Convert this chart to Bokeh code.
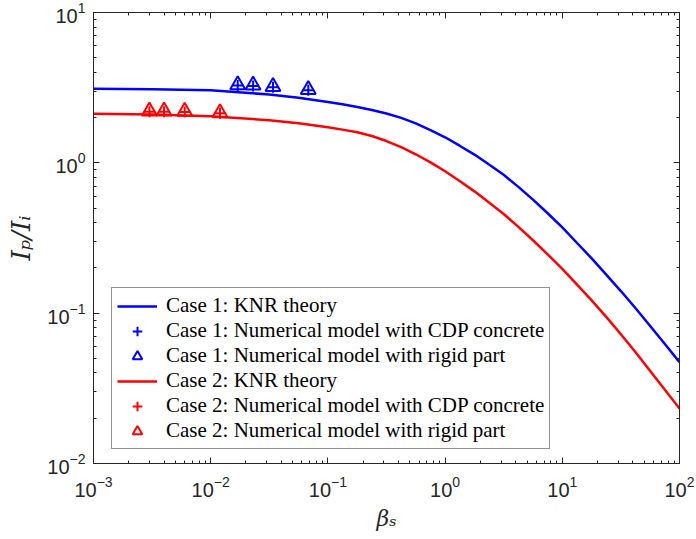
from bokeh.plotting import figure
from bokeh.models import Range1d, LogAxis, Legend, LegendItem, CustomJSTickFormatter, LogTicker
from bokeh.embed import file_html
from bokeh.resources import INLINE

# ---- data ----
beta_theory = [0.001, 0.00316, 0.01, 0.0316, 0.0562, 0.1, 0.133, 0.178, 0.237,
               0.316, 0.422, 0.562, 0.75, 1.0, 1.33, 1.78, 2.37, 3.16, 4.22,
               5.62, 7.5, 10.0, 13.3, 17.8, 23.7, 31.6, 42.2, 56.2, 75.0, 100.0]
case1_knr = [3.105, 3.09, 3.034, 2.851, 2.710, 2.541, 2.449, 2.355, 2.249,
             2.128, 1.99, 1.828, 1.652, 1.479, 1.30, 1.135, 0.975, 0.832, 0.692,
             0.569, 0.462, 0.372, 0.294, 0.2317, 0.1805, 0.1403, 0.1078, 0.0822,
             0.0623, 0.0472]
case2_knr = [2.118, 2.094, 2.042, 1.919, 1.832, 1.726, 1.663, 1.596, 1.507,
             1.396, 1.271, 1.140, 1.007, 0.879, 0.758, 0.646, 0.545, 0.457, 0.375,
             0.3055, 0.246, 0.1972, 0.1556, 0.1216, 0.0944, 0.0724, 0.0550, 0.0412,
             0.0309, 0.0232]

case1_beta = [0.017, 0.023, 0.034, 0.068]
case1_cdp = [3.27, 3.25, 3.18, 3.04]
case1_rigid = [3.30, 3.28, 3.21, 3.07]

case2_beta = [0.003, 0.004, 0.006, 0.012]
case2_cdp = [2.19, 2.19, 2.18, 2.14]
case2_rigid = [2.21, 2.21, 2.20, 2.15]

labels = [
    "Case 1: KNR theory",
    "Case 1: Numerical model with CDP concrete",
    "Case 1: Numerical model with rigid part",
    "Case 2: KNR theory",
    "Case 2: Numerical model with CDP concrete",
    "Case 2: Numerical model with rigid part",
]

BLUE = "#0000ff"
RED = "#ff0000"
DARK = "#262626"

p = figure(width=696, height=539, x_axis_type="log", y_axis_type="log",
           x_range=Range1d(1e-3, 1e2), y_range=Range1d(1e-2, 1e1),
           output_backend="svg", toolbar_location=None,
           min_border_left=93, min_border_right=17, min_border_top=12,
           min_border_bottom=76)
p.grid.visible = False
p.outline_line_color = DARK
p.outline_line_width = 1
p.background_fill_color = "white"
p.border_fill_color = "white"

xax = p.below[0]
yax = p.left[0]

for loc in ("right", "above"):
    ax = LogAxis(ticker=LogTicker(num_minor_ticks=10),
                 formatter=CustomJSTickFormatter(code="return ''"),
                 major_label_standoff=0)
    p.add_layout(ax, loc)


def style(ax):
    ax.axis_line_color = DARK
    ax.axis_line_width = 1
    ax.major_tick_line_color = DARK
    ax.minor_tick_line_color = DARK
    ax.major_tick_in = 6
    ax.major_tick_out = 0
    ax.minor_tick_in = 3
    ax.minor_tick_out = 0
    ax.major_label_text_font = "Liberation Sans"
    ax.major_label_text_font_size = "20px"
    ax.major_label_text_color = DARK


for ax in p.axis:
    style(ax)

xax.major_label_standoff = 12
yax.major_label_standoff = 8

xax.axis_label = "\u03b2\u209b"
yax.axis_label = "I\u209a/I\u1d62"
for ax in (xax, yax):
    ax.axis_label_text_font = "DejaVu Serif"
    ax.axis_label_text_font_style = "italic"
    ax.axis_label_text_color = DARK
xax.axis_label_text_font_size = "22px"
yax.axis_label_text_font_size = "26px"
xax.axis_label_standoff = 6
yax.axis_label_standoff = 8

r1 = p.line(beta_theory, case1_knr, line_color=BLUE, line_width=2.5)
r4 = p.line(beta_theory, case2_knr, line_color=RED, line_width=2.5)
r2 = p.scatter(case1_beta, case1_cdp, marker="cross", size=11,
               line_color=BLUE, line_width=2)
r3 = p.scatter(case1_beta, case1_rigid, marker="triangle", size=15,
               line_color=BLUE, fill_color=None, line_width=2)
r5 = p.scatter(case2_beta, case2_cdp, marker="cross", size=11,
               line_color=RED, line_width=2)
r6 = p.scatter(case2_beta, case2_rigid, marker="triangle", size=15,
               line_color=RED, fill_color=None, line_width=2)

legend = Legend(
    items=[LegendItem(label=lab, renderers=[r])
           for lab, r in zip(labels, [r1, r2, r3, r4, r5, r6])],
    location=(18, 14), margin=0, padding=5, spacing=0,
    glyph_width=40, glyph_height=24, label_height=24, label_standoff=9,
    label_text_font="Liberation Serif", label_text_font_size="21px",
    label_text_line_height=1.0,
    label_text_color="black",
    border_line_color=DARK, border_line_width=1,
    background_fill_color="white", background_fill_alpha=1,
)
p.add_layout(legend)

open("out.html", "w").write(file_html(p, INLINE))
